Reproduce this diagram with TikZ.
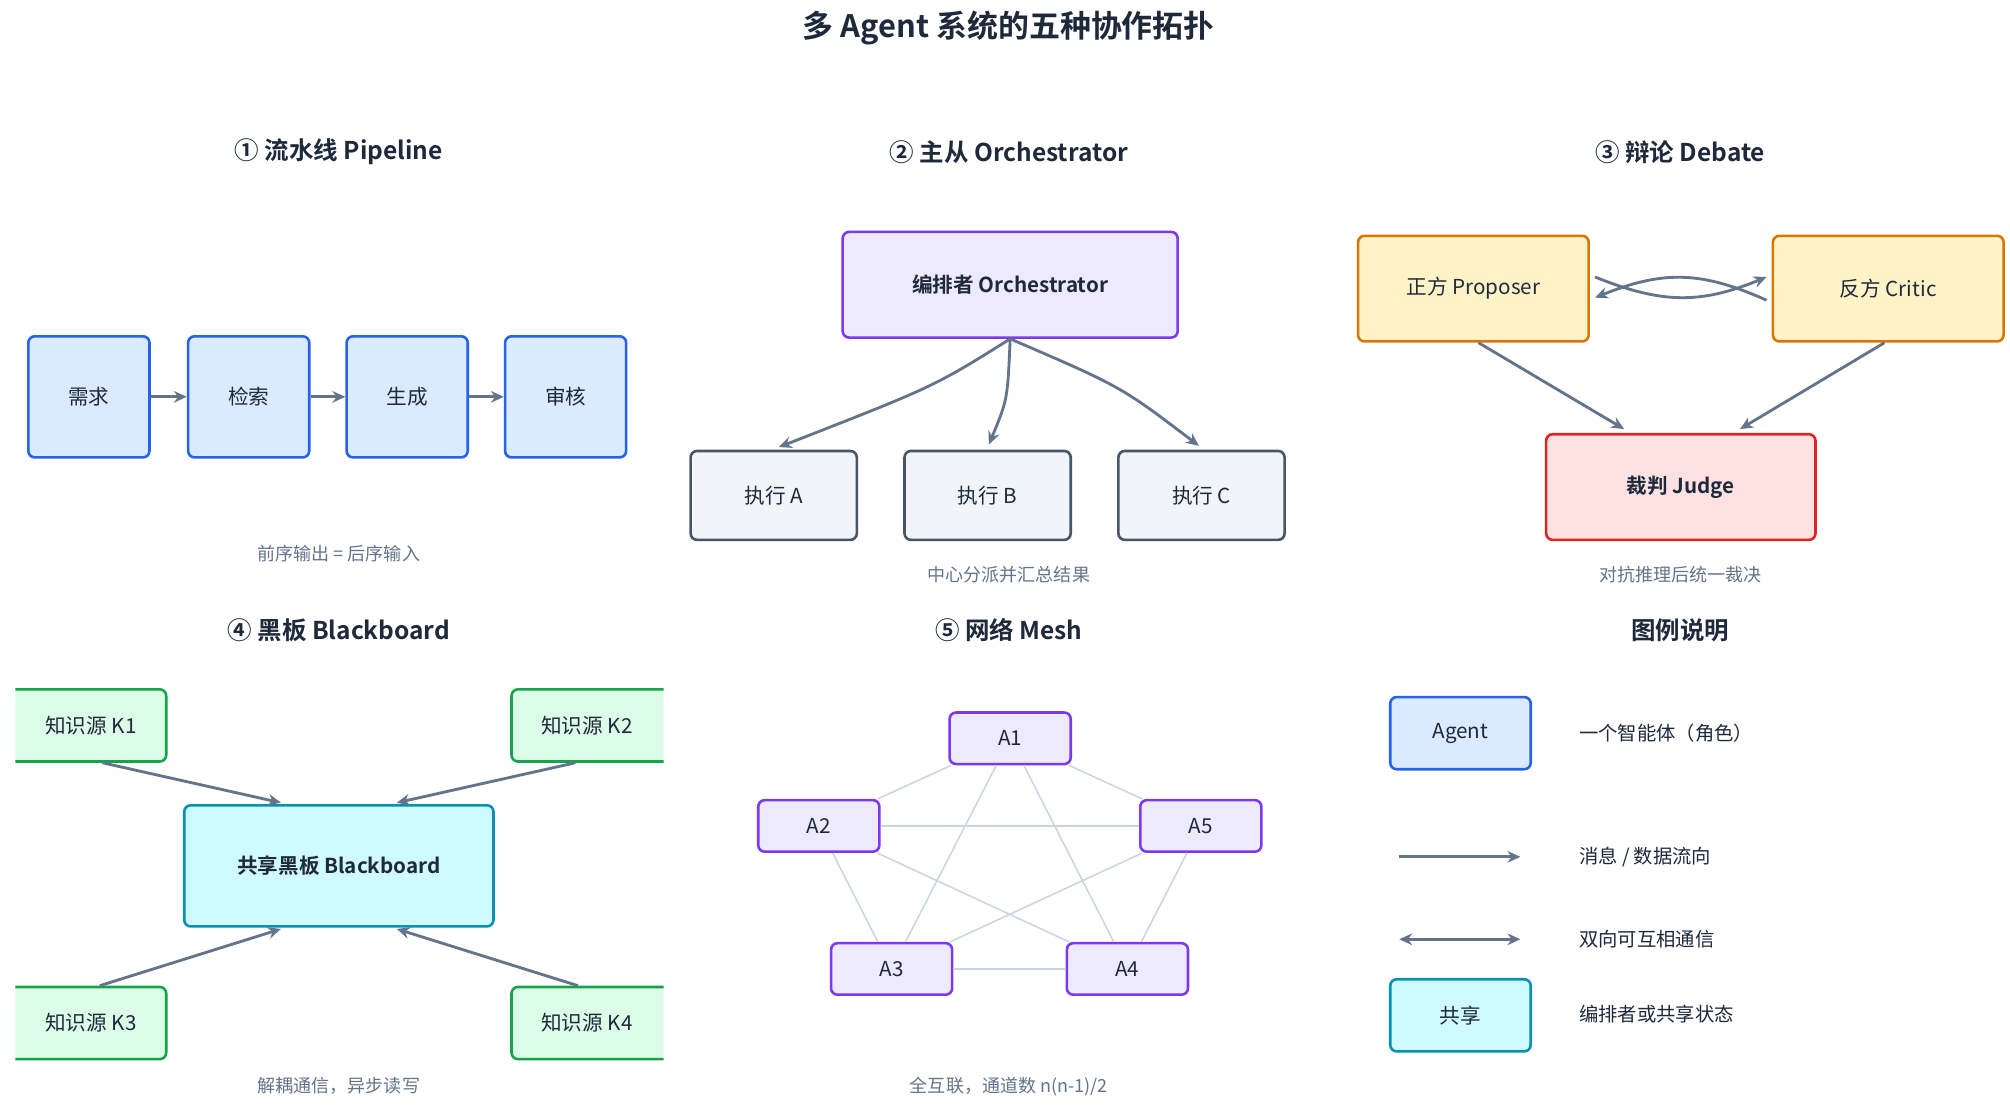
\documentclass[tikz,border=0pt]{standalone}
\usepackage{fontspec}
\setmainfont{Noto Sans CJK SC}[BoldFont={Noto Sans CJK SC Bold}]
\usetikzlibrary{arrows.meta,calc}
\definecolor{txt}{HTML}{1E293B}
\definecolor{cap}{HTML}{64748B}
\definecolor{arr}{HTML}{64748B}
\definecolor{mesh}{HTML}{CBD5E1}
\begin{document}
\begin{tikzpicture}[x=1pt,y=-1pt,
  box/.style={draw,rounded corners=5pt,line width=2pt,align=center,text=txt,font=\fontsize{16}{18}\selectfont,inner sep=0pt},
  blue/.style={box,fill=blue!15!white,fill={rgb,255:red,219;green,234;blue,254},draw={rgb,255:red,37;green,99;blue,235}},
  purp/.style={box,fill={rgb,255:red,237;green,233;blue,254},draw={rgb,255:red,124;green,58;blue,237}},
  grayb/.style={box,fill={rgb,255:red,241;green,245;blue,249},draw={rgb,255:red,71;green,85;blue,105}},
  yel/.style={box,fill={rgb,255:red,254;green,243;blue,199},draw={rgb,255:red,217;green,119;blue,6}},
  redb/.style={box,fill={rgb,255:red,254;green,226;blue,226},draw={rgb,255:red,220;green,38;blue,38}},
  grn/.style={box,fill={rgb,255:red,220;green,252;blue,231},draw={rgb,255:red,22;green,163;blue,74}},
  cyan/.style={box,fill={rgb,255:red,207;green,250;blue,254},draw={rgb,255:red,8;green,145;blue,178}},
  sec/.style={font=\bfseries\fontsize{19}{22}\selectfont,text=txt},
  capt/.style={font=\fontsize{14}{16}\selectfont,text=cap},
  leg/.style={font=\fontsize{15}{17}\selectfont,text=txt,anchor=west},
  a/.style={draw=arr,line width=2.2pt,-{Stealth[length=10pt,width=9pt]}},
  aa/.style={draw=arr,line width=2.2pt,{Stealth[length=10pt,width=9pt]}-{Stealth[length=10pt,width=9pt]}},
  ml/.style={draw=mesh,line width=1.2pt}]
\useasboundingbox (0,0) rectangle (1560,859);
\fill[white] (0,0) rectangle (1560,859);
\node[font=\bfseries\fontsize{24}{28}\selectfont,text=txt] (title) at (783,22) {多 Agent 系统的五种协作拓扑};
% section titles
\node[sec] (s1) at (263,118) {① 流水线 Pipeline};
\node[sec] (s2) at (783,118) {② 主从 Orchestrator};
\node[sec] (s3) at (1304,118) {③ 辩论 Debate};
\node[sec] (s4) at (263,489) {④ 黑板 Blackboard};
\node[sec] (s5) at (783,489) {⑤ 网络 Mesh};
\node[sec] (s6) at (1304,489) {图例说明};
% pipeline
\node[blue,minimum width=94,minimum height=94] (p1) at (69,308) {需求};
\node[blue,minimum width=94,minimum height=94] (p2) at (193,308) {检索};
\node[blue,minimum width=94,minimum height=94] (p3) at (316,308) {生成};
\node[blue,minimum width=94,minimum height=94] (p4) at (439,308) {审核};
\draw[a] (p1) -- (p2); \draw[a] (p2) -- (p3); \draw[a] (p3) -- (p4);
\node[capt] (c1) at (263,430) {前序输出 = 后序输入};
% orchestrator
\node[purp,minimum width=260,minimum height=82,font=\bfseries\fontsize{16}{18}\selectfont] (orch) at (784,221) {编排者 Orchestrator};
\node[grayb,minimum width=129,minimum height=69] (ea) at (600.5,384.5) {执行 A};
\node[grayb,minimum width=129,minimum height=69] (eb) at (766.5,384.5) {执行 B};
\node[grayb,minimum width=129,minimum height=69] (ec) at (932.5,384.5) {执行 C};
\draw[a] (orch.south) .. controls (725,300) .. ($(ea.north)+(4,-2)$);
\draw[a] (orch.south) .. controls (782,310) .. ($(eb.north)+(1,-4)$);
\draw[a] (orch.south) .. controls (870,300) .. ($(ec.north)+(-2,-3)$);
\node[capt] (c2) at (783,446) {中心分派并汇总结果};
% debate
\node[yel,minimum width=179,minimum height=82] (prop) at (1143.5,224) {正方 Proposer};
\node[yel,minimum width=179,minimum height=82] (crit) at (1465.5,224) {反方 Critic};
\node[redb,minimum width=209,minimum height=82,font=\bfseries\fontsize{16}{18}\selectfont] (judge) at (1304.5,378) {裁判 Judge};
\draw[a] ($(prop.east)+(4,-9)$) .. controls (1290,236) and (1320,236) .. ($(crit.west)+(-4,-9)$);
\draw[a] ($(crit.west)+(-4,9)$) .. controls (1320,210) and (1290,210) .. ($(prop.east)+(4,7)$);
\draw[a] ($(prop.south)+(4,0)$) -- ($(judge.north)+(-44,-3)$);
\draw[a] ($(crit.south)+(-3,0)$) -- ($(judge.north)+(46,-3)$);
\node[capt] (c3) at (1304,446) {对抗推理后统一裁决};
% blackboard
\node[cyan,minimum width=240,minimum height=94,font=\bfseries\fontsize{16}{18}\selectfont] (bb) at (263,672) {共享黑板 Blackboard};
\begin{scope}
\clip (12,500) rectangle (515,830);
\node[grn,minimum width=149,minimum height=56] (k1) at (54.5,563) {\hspace*{32pt}知识源 K1};
\node[grn,minimum width=149,minimum height=56] (k2) at (471.5,563) {知识源 K2\hspace*{32pt}};
\node[grn,minimum width=149,minimum height=56] (k3) at (54.5,794) {\hspace*{32pt}知识源 K3};
\node[grn,minimum width=149,minimum height=56] (k4) at (471.5,794) {知识源 K4\hspace*{32pt}};
\end{scope}
\draw[a] ($(k1.south)+(25,0)$) -- ($(bb.north)+(-45,-1)$);
\draw[a] ($(k2.south)+(-25,0)$) -- ($(bb.north)+(45,-1)$);
\draw[a] ($(k3.north)+(23,0)$) -- ($(bb.south)+(-45,1)$);
\draw[a] ($(k4.north)+(-23,0)$) -- ($(bb.south)+(45,1)$);
\node[capt] (c4) at (263,843) {解耦通信，异步读写};
% mesh
\node[purp,minimum width=94,minimum height=40] (m1) at (784,573) {A1};
\node[purp,minimum width=94,minimum height=40] (m2) at (635.5,641) {A2};
\node[purp,minimum width=94,minimum height=40] (m5) at (932,641) {A5};
\node[purp,minimum width=94,minimum height=40] (m3) at (692,752) {A3};
\node[purp,minimum width=94,minimum height=40] (m4) at (875,752) {A4};
\begin{scope}[on background layer/.style={}]
\foreach \u/\v in {m1/m2,m1/m5,m1/m3,m1/m4,m2/m5,m2/m3,m2/m4,m5/m3,m5/m4,m3/m4}
  \draw[ml] (\u) -- (\v);
\end{scope}
\node[capt] (c5) at (783,843) {全互联，通道数 n(n-1)/2};
% legend
\node[blue,minimum width=109,minimum height=56] (lg1) at (1133.5,569) {Agent};
\node[leg] (lt1) at (1222,569) {一个智能体（角色）};
\coordinate (la1) at (1086,665); \coordinate (lb1) at (1180,665);
\draw[a] (la1) -- (lb1);
\node[leg] (lt2) at (1222,665) {消息 / 数据流向};
\coordinate (la2) at (1086,729); \coordinate (lb2) at (1180,729);
\draw[aa] (la2) -- (lb2);
\node[leg] (lt3) at (1222,729) {双向可互相通信};
\node[cyan,minimum width=109,minimum height=56] (lg2) at (1133.5,788) {共享};
\node[leg] (lt4) at (1222,787) {编排者或共享状态};
\end{tikzpicture}
\end{document}
